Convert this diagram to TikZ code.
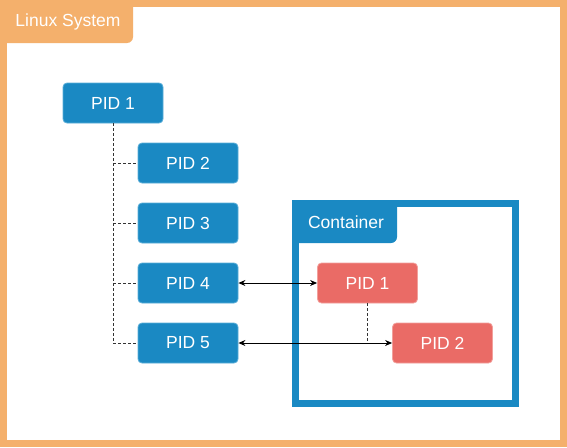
\documentclass[tikz,border=0pt]{standalone}
\usepackage{fontspec}
\setmainfont{Liberation Sans}
\usetikzlibrary{arrows.meta}
\definecolor{frameorange}{HTML}{F4B06C}
\definecolor{boxblue}{HTML}{1A89C3}
\definecolor{boxblueline}{HTML}{5AAED8}
\definecolor{boxred}{HTML}{EA6B66}
\definecolor{boxredline}{HTML}{F2A09C}
\tikzset{
  pidbox/.style={rounded corners=4pt, minimum width=100pt, minimum height=40pt,
    inner sep=0pt, text=white, font=\fontsize{17.5pt}{20pt}\selectfont, line width=0.8pt},
  hostbox/.style={pidbox, fill=boxblue, draw=boxblueline},
  ctrbox/.style={pidbox, fill=boxred, draw=boxredline},
  treeline/.style={dashed, dash pattern=on 3pt off 2pt, line width=0.9pt, black!80},
  linkarrow/.style={{Stealth[length=7pt,width=6pt]}-{Stealth[length=7pt,width=6pt]}, line width=1pt, black},
  tablabel/.style={text=white, font=\fontsize{17.5pt}{20pt}\selectfont, inner sep=0pt}
}
\begin{document}
\begin{tikzpicture}[x=1pt,y=-1pt]
\useasboundingbox (0,0) rectangle (567,447);
\fill[white] (0,0) rectangle (567,447);
% outer frame
\draw[frameorange, line width=7pt] (3.5,3.5) rectangle (563.5,443.5);
\fill[frameorange] (0,0) -- (133,0) -- (133,37) arc[start angle=0, end angle=-90, x radius=6, y radius=-6] -- (0,43) -- cycle;
\node[tablabel] (linuxlbl) at (68,22) {Linux System};
% container frame
\draw[boxblue, line width=7pt] (295.5,203.5) rectangle (515.5,403.5);
\fill[boxblue] (292,200) -- (397,200) -- (397,237) arc[start angle=0, end angle=-90, x radius=6, y radius=-6] -- (292,243) -- cycle;
\node[tablabel] (ctrlbl) at (346,222) {Container};
% host processes
\node[hostbox] (h1) at (113,103) {PID 1};
\node[hostbox] (h2) at (188,163) {PID 2};
\node[hostbox] (h3) at (188,223) {PID 3};
\node[hostbox] (h4) at (188,283) {PID 4};
\node[hostbox] (h5) at (188,343) {PID 5};
% container processes
\node[ctrbox] (c1) at (367.5,283) {PID 1};
\node[ctrbox] (c2) at (442.5,343) {PID 2};
% tree
\coordinate (t2) at (113,163);
\coordinate (t3) at (113,223);
\coordinate (t4) at (113,283);
\draw[treeline] (h1.south) |- (h5.west);
\draw[treeline] (t2) -- (h2.west);
\draw[treeline] (t3) -- (h3.west);
\draw[treeline] (t4) -- (h4.west);
\coordinate (cj) at (c1.south |- c2.west);
\draw[treeline] (c1.south) -- (cj);
% links
\draw[linkarrow] (h4.east) -- (c1.west);
\draw[linkarrow] (h5.east) -- (c2.west);
\end{tikzpicture}
\end{document}
